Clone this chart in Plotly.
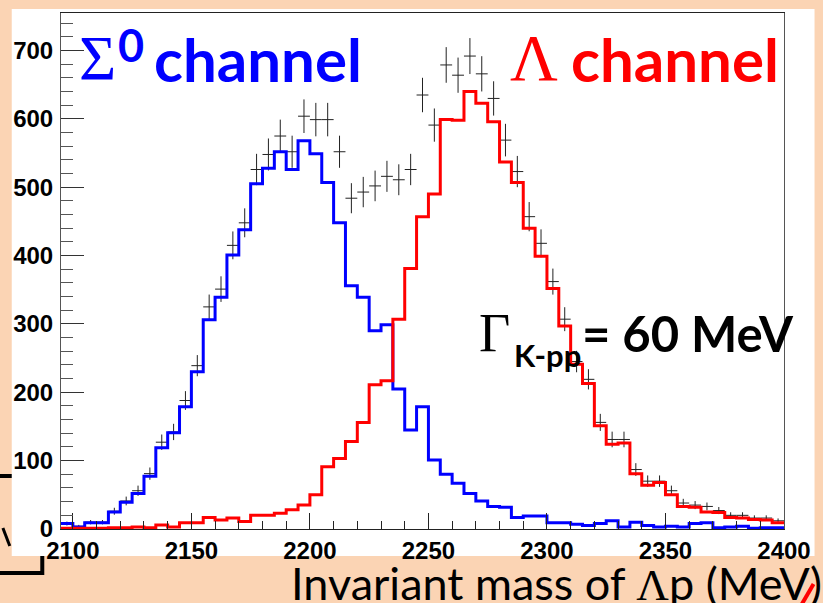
import numpy as np
import plotly.graph_objects as go

# ---------------- data (5 MeV bins from 2095 to 2400 MeV) ----------------
bin_width = 5
first_edge = 2095
sigma0_channel = [8, 3, 9, 9, 25, 39, 52, 77, 119, 141,
                  179, 230, 306, 339, 401, 438, 505, 528, 552, 526,
                  568, 549, 507, 448, 356, 339, 290, 299, 205, 145,
                  179, 101, 80, 67, 52, 41, 33, 32, 17, 19,
                  19, 9, 9, 7, 5, 8, 12, 3, 10, 5,
                  3, 4, 3, 8, 9, 2, 3, 4, 1, 2, 2]
lambda_channel = [1, 1, 1, 1, 2, 2, 3, 2, 6, 3,
                  9, 9, 17, 13, 16, 11, 20, 20, 23, 28,
                  35, 50, 91, 103, 128, 156, 211, 217, 307, 381,
                  457, 490, 599, 598, 640, 623, 596, 537, 507, 440,
                  399, 352, 297, 241, 213, 151, 124, 126, 81, 64,
                  68, 50, 33, 32, 25, 24, 17, 16, 14, 13, 9]
measured = [8, 4, 10, 10, 26, 41, 56, 81, 127, 142,
            188, 239, 325, 351, 415, 448, 526, 548, 575, 552,
            604, 599, 599, 552, 484, 493, 502, 516, 511, 526,
            635, 591, 679, 664, 692, 666, 630, 569, 523, 457,
            418, 362, 307, 245, 219, 156, 131, 131, 87, 70,
            70, 56, 38, 35, 33, 27, 20, 20, 16, 16, 12]
x_ticks = [2100, 2150, 2200, 2250, 2300, 2350, 2400]
y_ticks = [0, 100, 200, 300, 400, 500, 600, 700]

n_bins = len(measured)
edges = [first_edge + bin_width * i for i in range(n_bins + 1)]
centers = [first_edge + bin_width * (i + 0.5) for i in range(n_bins)]
errors = list(np.sqrt(np.array(measured, dtype=float)))

# ---------------- geometry helpers (pixels -> paper) ----------------
W, H = 823, 603
L, R, T, B = 61, 795, 13, 529


def px(x):
    return (x - L) / (R - L)


def py(y):
    return (B - y) / (B - T)


PEACH = "#FBD4B4"

fig = go.Figure()

fig.add_trace(go.Scatter(
    x=centers, y=measured, mode="markers",
    marker=dict(size=2, color="rgba(0,0,0,0)"),
    error_x=dict(type="constant", value=bin_width / 2, width=0, thickness=1, color="#222"),
    error_y=dict(type="data", array=errors, width=0, thickness=1, color="#222"),
    hoverinfo="skip",
))
fig.add_trace(go.Scatter(
    x=edges, y=sigma0_channel + [sigma0_channel[-1]], mode="lines",
    line=dict(color="#0000FF", width=3, shape="hv"), hoverinfo="skip",
))
fig.add_trace(go.Scatter(
    x=edges, y=lambda_channel + [lambda_channel[-1]], mode="lines",
    line=dict(color="#FF0000", width=3, shape="hv"), hoverinfo="skip",
))

tickfont = dict(family="Liberation Sans", size=24, color="black", weight="bold")

fig.update_layout(
    width=W, height=H,
    margin=dict(l=L, r=W - R, t=T, b=H - B, pad=0),
    paper_bgcolor=PEACH, plot_bgcolor="white",
    showlegend=False,
    xaxis=dict(
        range=[first_edge, first_edge + bin_width * n_bins],
        tickmode="array", tickvals=x_ticks, ticktext=[str(v) for v in x_ticks],
        ticks="inside", ticklen=16, tickwidth=1, tickcolor="#222",
        showline=True, linecolor="#222", linewidth=1, mirror=True,
        showgrid=False, zeroline=False, tickfont=tickfont, ticklabelstandoff=0,
        minor=dict(ticks="inside", tickmode="linear", tick0=2100, dtick=10,
                   ticklen=8, tickcolor="#222", tickwidth=1, showgrid=False),
    ),
    yaxis=dict(
        range=[0, 755],
        tickmode="array", tickvals=y_ticks, ticktext=[str(v) for v in y_ticks],
        ticks="inside", ticklen=23, tickwidth=1, tickcolor="#333",
        showline=True, linecolor="#555", linewidth=1, mirror=True,
        showgrid=False, zeroline=False, tickfont=tickfont, ticklabelstandoff=2,
        minor=dict(ticks="inside", tickmode="linear", tick0=0, dtick=20,
                   ticklen=12, tickcolor="#555", tickwidth=1, showgrid=False),
    ),
)

# slide decorations behind the white canvas
shapes = [
    dict(type="path", xref="paper", yref="paper",
         path=f"M {px(-5)},{py(476)} L {px(42)},{py(476)} L {px(42)},{py(573)} L {px(-5)},{py(573)}",
         line=dict(color="black", width=4), layer="below"),
    dict(type="rect", xref="paper", yref="paper",
         x0=px(11), x1=px(826), y0=py(556), y1=py(9),
         fillcolor="white", line=dict(width=0), layer="below"),
    dict(type="line", xref="paper", yref="paper",
         x0=px(2), y0=py(528), x1=px(9), y1=py(546),
         line=dict(color="black", width=3), layer="below"),
    dict(type="line", xref="paper", yref="paper",
         x0=px(812), y0=py(606), x1=px(825), y1=py(584),
         line=dict(color="#FF0000", width=4), layer="below"),
]
fig.update_layout(shapes=shapes)

SANS = "Lato"
SERIF = "Liberation Serif"


def ann(text, x, y, size, color, family, bold=True, xanchor="left"):
    fig.add_annotation(
        text=text, xref="paper", yref="paper", x=px(x), y=py(y),
        xanchor=xanchor, yanchor="middle", showarrow=False,
        font=dict(family=family, size=size, color=color,
                  weight="bold" if bold else "normal"),
        borderpad=0,
    )


# Sigma0 channel (blue)
ann("Σ", 78, 58, 64, "#0000FF", SERIF, bold=False)
ann("0", 118, 45, 45, "#0000FF", SANS)
ann("channel", 154, 59, 60, "#0000FF", SANS)
# Lambda channel (red)
ann("Λ", 516, 57, 66, "#FF0000", SERIF, bold=False)
ann("channel", 578, 59, 60, "#FF0000", SANS)
# width annotation
ann("Γ", 484, 333, 54, "black", SERIF, bold=False)
ann("K-pp", 520, 355, 31, "black", SANS)
ann("= 60 MeV", 589, 333, 49, "black", SANS)
# x-axis title on the slide
ann("Invariant mass of <span style='font-family:Liberation Serif'>Λ</span>p (MeV)",
    293, 583, 45, "black", SANS, bold=False)

fig.write_html("out.html")
